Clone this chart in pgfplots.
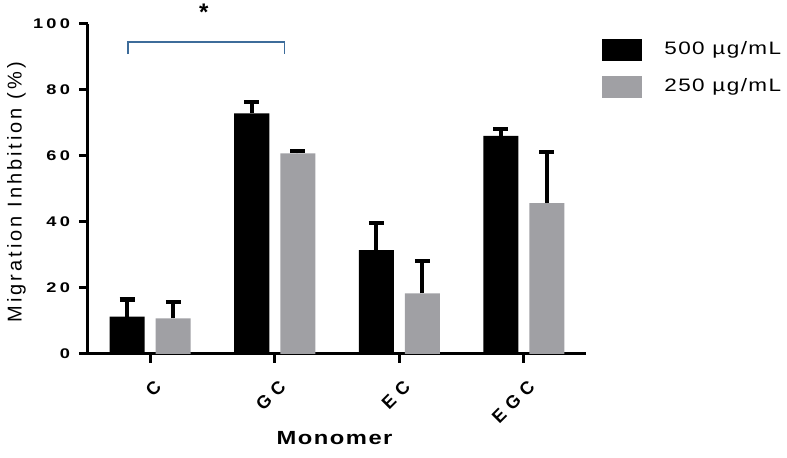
\documentclass[border=0pt]{standalone}
\usepackage{fontspec}
\setmainfont{Liberation Sans}
\newfontfamily\tickfont[FakeStretch=1.3, LetterSpace=23]{Liberation Sans}
\newfontfamily\xtickfont[LetterSpace=35]{Liberation Sans}
\newfontfamily\ylabfont[LetterSpace=15]{Liberation Sans}
\newfontfamily\xlabfont[FakeStretch=1.25, LetterSpace=8]{Liberation Sans}
\newfontfamily\legfont[FakeStretch=1.25, LetterSpace=8]{Liberation Sans}
\usepackage{pgfplots}
\pgfplotsset{compat=1.18}
\definecolor{bargray}{HTML}{A0A0A4}
\definecolor{bracketblue}{HTML}{3D6C9A}

\begin{document}
\begin{tikzpicture}
\useasboundingbox (-44pt,-52pt) rectangle (349.5pt,177pt);
\begin{axis}[
  scale only axis, width=249pt, height=165pt,
  at={(0,0)}, anchor=south west,
  ybar=5.5pt, bar width=17.5pt,
  xmin=-0.5, xmax=3.5, ymin=0, ymax=100,
  xtick={0,1,2,3}, xticklabels={C,GC,EC,EGC},
  ytick={0,20,40,60,80,100},
  axis x line*=bottom, axis y line*=left,
  axis line style={line width=1.5pt, black},
  tick style={line width=1.5pt, black},
  tick align=outside,
  major tick length=4.5pt,
  /pgf/number format/assume math mode=true,
  yticklabel style={font=\tickfont\bfseries\fontsize{7}{8}\selectfont, xshift=-1pt},
  xticklabel style={font=\xtickfont\bfseries\fontsize{9}{11}\selectfont, rotate=45, anchor=east, yshift=-10pt, xshift=-1pt},
  ylabel={Migration Inhbition (\%)},
  ylabel style={font=\ylabfont\fontsize{10}{12}\selectfont, at={(axis description cs:-0.1436,0.49)}, anchor=center},
  xlabel={Monomer},
  xlabel style={font=\xlabfont\bfseries\fontsize{9.5}{12}\selectfont, at={(axis description cs:0.495,-0.255)}, anchor=center},
  legend style={at={(1.032,0.96)}, anchor=north west, draw=none, fill=none,
    font=\legfont\fontsize{9}{11}\selectfont, row sep=6.5pt, inner sep=0pt,
    /tikz/every odd column/.append style={column sep=9pt}},
  legend cell align=left,
  clip=false,
  error bars/y dir=plus, error bars/y explicit,
  error bars/error bar style={line width=2pt, black},
  error bars/error mark options={rotate=90, mark size=3.75pt, line width=2.2pt, black},
]
\addplot[fill=black, draw=none,
  legend image code/.code={\fill[black] (0pt,-5.5pt) rectangle (20pt,5.5pt);}]
  coordinates {(0,11.3) +- (0,5.2) (1,72.9) +- (0,3.5) (2,31.5) +- (0,8.2) (3,66.1) +- (0,2.0)};
\addplot[fill=bargray, draw=none,
  legend image code/.code={\fill[bargray] (0pt,-5.5pt) rectangle (20pt,5.5pt);}]
  coordinates {(0,10.8) +- (0,5.0) (1,60.8) +- (0,0.8) (2,18.4) +- (0,9.8) (3,45.7) +- (0,15.6)};
\legend{500 µg/mL, 250 µg/mL}
\draw[line width=1.5pt] (rel axis cs:0,0) -- ++(-4.5pt,0);
\draw[bracketblue, line width=0.75pt] (axis cs:-0.18,90.9) -- (axis cs:-0.18,94.6) -- (axis cs:1.08,94.6) -- (axis cs:1.08,90.9);
\node[font=\fontsize{12}{12}\selectfont\bfseries] at (axis cs:0.43,103.6) {*};
\end{axis}
\end{tikzpicture}
\end{document}
